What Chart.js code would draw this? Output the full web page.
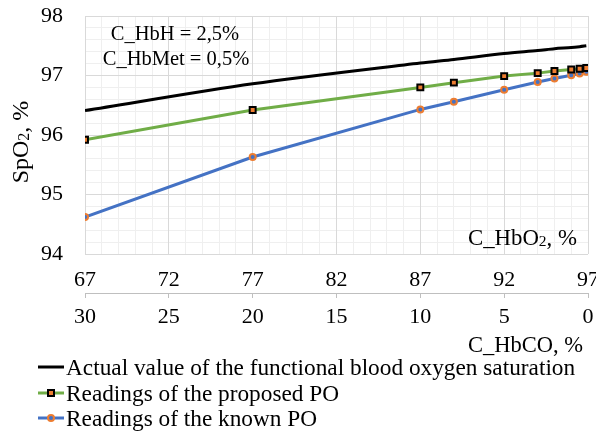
<!DOCTYPE html>
<html><head><meta charset="utf-8">
<script src="https://cdn.jsdelivr.net/npm/chart.js@4/dist/chart.umd.min.js"></script>
<style>html,body{margin:0;padding:0;background:#fff}#wrap{width:596px;height:432px;position:relative}</style>
</head><body><div id="wrap"><canvas id="c" width="596" height="432"></canvas></div>
<script>
// ---- data ----
const hbo2 = [67, 77, 87, 89, 92, 94, 95, 96, 96.5, 96.9];
const actualSpO2 = [96.41, 96.86, 97.21, 97.27, 97.37, 97.42, 97.45, 97.47, 97.485, 97.50];
const proposedPO = [95.92, 96.42, 96.80, 96.88, 96.99, 97.04, 97.075, 97.10, 97.115, 97.125];
const knownPO = [94.62, 95.63, 96.43, 96.56, 96.76, 96.89, 96.95, 97.005, 97.035, 97.065];
const hbo2Ticks = [67, 72, 77, 82, 87, 92, 97];
const hbcoTicks = [30, 25, 20, 15, 10, 5, 0];
const spo2Ticks = [94, 95, 96, 97, 98];
const seriesNames = ['Actual value of the functional blood oxygen saturation', 'Readings of the proposed PO', 'Readings of the known PO'];
const noteLines = ['C_HbH = 2,5%', 'C_HbMet = 0,5%'];

const FONT = '"Liberation Serif", "Times New Roman", serif';
const GREEN = '#70AD47', BLUE = '#4472C4', ORANGE = '#ED7D31';

function drawRich(ctx, parts, x, y, align) {
  let w = 0;
  parts.forEach(p => { ctx.font = p.size + 'px ' + FONT; p.w = ctx.measureText(p.t).width; w += p.w; });
  let cx = align === 'right' ? x - w : align === 'center' ? x - w / 2 : x;
  parts.forEach(p => { ctx.font = p.size + 'px ' + FONT; ctx.fillText(p.t, cx, y + (p.dy || 0)); cx += p.w; });
}

const textPlugin = {
  id: 'texts',
  afterDraw(chart) {
    const ctx = chart.ctx;
    ctx.save();
    ctx.fillStyle = '#000';
    ctx.textBaseline = 'alphabetic';
    // annotation
    drawRich(ctx, [{t: noteLines[0], size: 20.5}], 175, 40, 'center');
    drawRich(ctx, [{t: noteLines[1], size: 20.5}], 176, 65, 'center');
    // HbO2 axis label inside plot
    drawRich(ctx, [{t: 'C_HbO', size: 22.8}, {t: '2', size: 15.5, dy: 1}, {t: ', %', size: 22.8}], 577, 245, 'right');
    // HbCO axis title
    drawRich(ctx, [{t: 'C_HbCO, %', size: 22.5}], 583, 352, 'right');
    // y title
    ctx.save();
    ctx.translate(28, 142);
    ctx.rotate(-Math.PI / 2);
    drawRich(ctx, [{t: 'SpO', size: 24}, {t: '2', size: 16, dy: 1}, {t: ', %', size: 24}], 0, 0, 'center');
    ctx.restore();
    // legend
    const rows = [367, 393, 418];
    const ds = chart.data.datasets;
    rows.forEach((ry, i) => {
      const d = ds[i];
      ctx.strokeStyle = d.borderColor;
      ctx.lineWidth = 3;
      ctx.beginPath(); ctx.moveTo(38, ry); ctx.lineTo(64, ry); ctx.stroke();
      if (i === 1) {
        ctx.fillStyle = ORANGE; ctx.strokeStyle = '#000'; ctx.lineWidth = 2;
        ctx.fillRect(48, ry - 3, 6, 6); ctx.strokeRect(48, ry - 3, 6, 6);
      } else if (i === 2) {
        ctx.fillStyle = BLUE; ctx.strokeStyle = ORANGE; ctx.lineWidth = 2;
        ctx.beginPath(); ctx.arc(51, ry, 3, 0, Math.PI * 2); ctx.fill(); ctx.stroke();
      }
      ctx.fillStyle = '#000';
      drawRich(ctx, [{t: seriesNames[i], size: 23.3}], 66, ry + 7.5, 'left');
    });
    ctx.restore();
  }
};

const minorColor = c => (Math.abs(c.tick.value - Math.round(c.tick.value)) < 1e-6 ? 'rgba(0,0,0,0)' : '#EFEFEF');
const minorColorX = c => (Math.abs((c.tick.value - 67) % 5) < 1e-6 ? 'rgba(0,0,0,0)' : '#EFEFEF');

new Chart(document.getElementById('c'), {
  type: 'line',
  data: {
    datasets: [
      {label: seriesNames[0], data: hbo2.map((x, i) => ({x, y: actualSpO2[i]})), borderColor: '#000', backgroundColor: '#000', borderWidth: 3, pointRadius: 0, tension: 0.3, xAxisID: 'x', yAxisID: 'y'},
      {label: seriesNames[1], data: hbo2.map((x, i) => ({x, y: proposedPO[i]})), borderColor: GREEN, borderWidth: 3, pointStyle: 'rect', pointRadius: 4.2, pointBorderWidth: 2, pointBorderColor: '#000', pointBackgroundColor: ORANGE, tension: 0, xAxisID: 'x', yAxisID: 'y'},
      {label: seriesNames[2], data: hbo2.map((x, i) => ({x, y: knownPO[i]})), borderColor: BLUE, borderWidth: 3, pointStyle: 'circle', pointRadius: 3, pointBorderWidth: 2, pointBorderColor: ORANGE, pointBackgroundColor: BLUE, tension: 0, xAxisID: 'x', yAxisID: 'y'}
    ]
  },
  options: {
    responsive: false, animation: false, devicePixelRatio: 1,
    layout: {padding: {left: 0, right: 8, top: 16, bottom: 101}},
    plugins: {legend: {display: false}, tooltip: {enabled: false}},
    scales: {
      xMinor: {type: 'linear', position: 'bottom', weight: 5, min: 67, max: 97,
        ticks: {display: false, stepSize: 1}, grid: {color: minorColorX, drawTicks: false}, border: {display: false},
        afterFit: s => { s.height = 0; s.paddingLeft = 0; s.paddingRight = 0; }},
      yMinor: {type: 'linear', position: 'left', weight: 5, min: 94, max: 98,
        ticks: {display: false, stepSize: 0.2}, grid: {color: minorColor, drawTicks: false}, border: {display: false},
        afterFit: s => { s.width = 0; s.paddingTop = 0; s.paddingBottom = 0; }},
      x: {type: 'linear', position: 'bottom', weight: 0, min: 67, max: 97,
        afterBuildTicks: s => { s.ticks = hbo2Ticks.map(v => ({value: v})); },
        ticks: {font: {family: FONT, size: 22}, color: '#000', padding: 13, maxRotation: 0, minRotation: 0, autoSkip: false},
        grid: {color: '#D9D9D9', drawTicks: false}, border: {display: false},
        afterFit: s => { s.height = 39; s.paddingLeft = 0; s.paddingRight = 0; s.paddingTop = 0; s.paddingBottom = 0; }},
      x2: {type: 'linear', position: 'bottom', weight: 1, min: 0, max: 30, reverse: true,
        afterBuildTicks: s => { s.ticks = hbcoTicks.map(v => ({value: v})); },
        ticks: {font: {family: FONT, size: 22}, color: '#000', padding: 6, maxRotation: 0, minRotation: 0, autoSkip: false},
        grid: {display: true, drawOnChartArea: false, drawTicks: true, tickLength: 5, color: '#BFBFBF'},
        border: {display: true, color: '#BFBFBF'},
        afterFit: s => { s.height = 38; s.paddingLeft = 0; s.paddingRight = 0; s.paddingTop = 0; s.paddingBottom = 0; }},
      y: {type: 'linear', position: 'left', weight: 0, min: 94, max: 98,
        afterBuildTicks: s => { s.ticks = spo2Ticks.map(v => ({value: v})); },
        ticks: {font: {family: FONT, size: 22}, color: '#000', padding: 22},
        grid: {color: '#D9D9D9', drawTicks: false}, border: {display: false},
        afterFit: s => { s.width = 85; s.paddingTop = 0; s.paddingBottom = 0; }}
    }
  },
  plugins: [textPlugin]
});
</script></body></html>
